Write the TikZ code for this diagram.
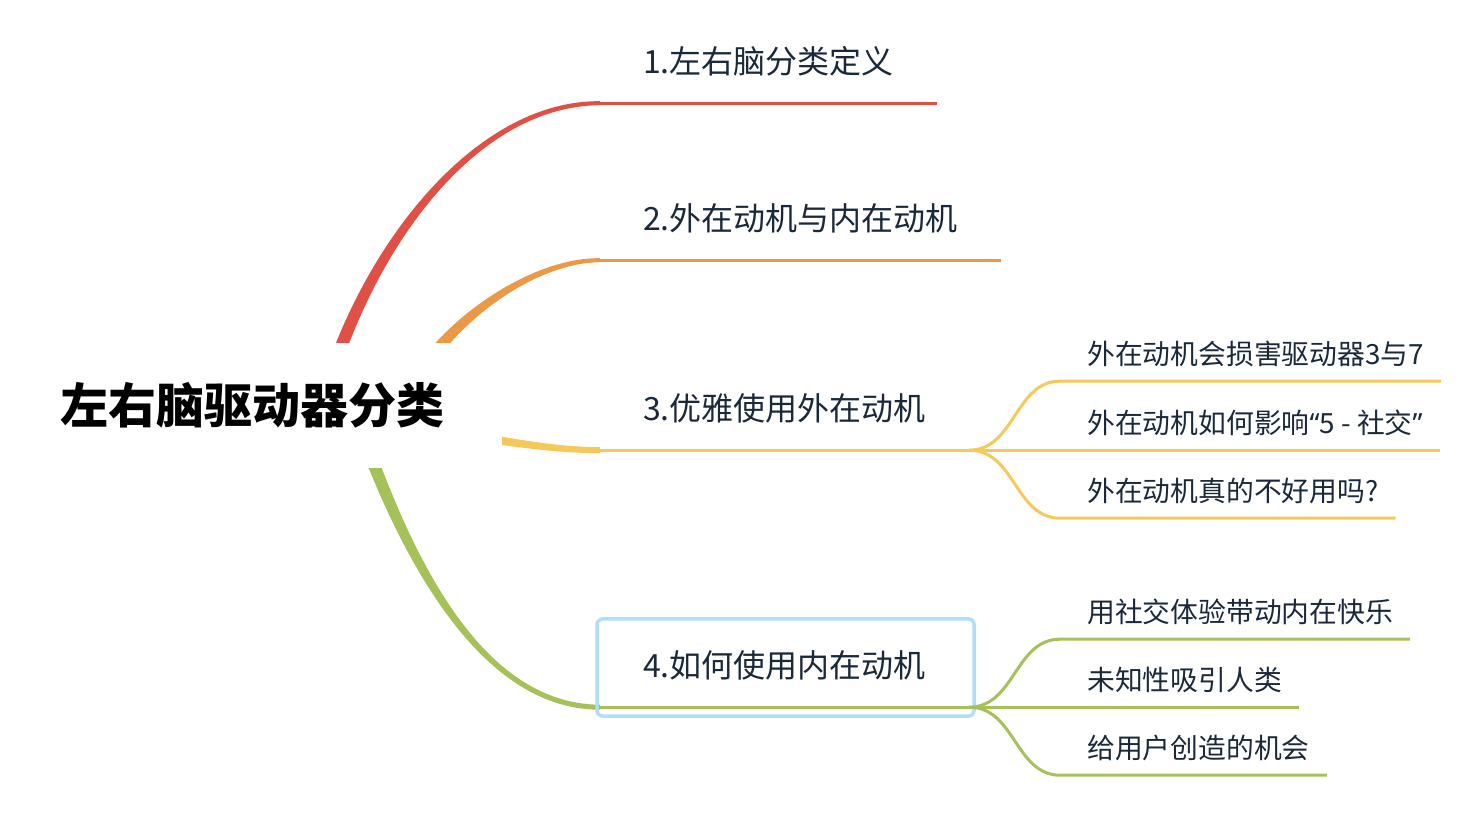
\documentclass[tikz,border=0pt]{standalone}
\usepackage{fontspec}
\newfontfamily\cjk{Noto Sans CJK SC}
\newfontfamily\latinq{Noto Sans}
\usepackage{tikz}
\usetikzlibrary{positioning,calc,backgrounds}
\definecolor{BranchRed}{HTML}{E05044}
\definecolor{BranchOrange}{HTML}{EB9847}
\definecolor{BranchYellow}{HTML}{F5C85A}
\definecolor{BranchGreen}{HTML}{A6C05A}
\definecolor{SelBlue}{HTML}{B0DEFA}
\definecolor{TextNavy}{HTML}{1A283A}

\begin{document}
\begin{tikzpicture}[
  x=1pt, y=-1pt,
  root/.style={
    fill=white,
    minimum width=500pt,
    minimum height=125pt,
    inner sep=0pt,
    text=black,
    font=\cjk\bfseries\fontsize{48}{57}\selectfont
  },
  topic/.style={
    anchor=west,
    inner xsep=43pt,
    inner ysep=0pt,
    minimum height=84pt,
    text=TextNavy,
    font=\cjk\fontsize{32}{38}\selectfont
  },
  sub/.style={
    anchor=west,
    inner sep=0pt,
    minimum height=54pt,
    text=TextNavy,
    font=\cjk\fontsize{27.8}{33}\selectfont
  },
  uline/.style={line width=3pt},
  selbox/.style={draw=SelBlue, line width=3.5pt, rounded corners=6pt}
]
\useasboundingbox (0,0) rectangle (1474,818);

% =========================================================
% ROOT AND MAIN TOPICS
% =========================================================

\node[root] (root) at (252,405) {左右脑驱动器分类};

\node[topic] (t1) at (600,61) {1.左右脑分类定义};
\node[topic] (t2) at (600,218) {2.外在动机与内在动机};
\node[topic] (t3) at (600,408) {3.优雅使用外在动机};
\node[topic] (t4) at (600,665) {4.如何使用内在动机};

% =========================================================
% SUBTOPICS
% =========================================================

\node[sub] (s31) at (1087,354) {外在动机会损害驱动器3与7};
\node[sub] (s32) at (1087,423) {外在动机如何影响{\latinq“}5 - 社交{\latinq”}};
\node[sub] (s33) at (1087,491) {外在动机真的不好用吗?};

\node[sub] (s41) at (1087,612) {用社交体验带动内在快乐};
\node[sub] (s42) at (1087,680) {未知性吸引人类};
\node[sub] (s43) at (1087,748) {给用户创造的机会};

% =========================================================
% BRANCHES (behind the root)
% =========================================================

\begin{scope}[on background layer]
\coordinate (h1) at (322,405);
\coordinate (h2) at (407,405);
\coordinate (h3) at (430,430);
\coordinate (h4) at (352,405);

\fill[BranchRed] ($(h1)+(-7,0)$) .. controls (358,248) and (474,100) .. ($(t1.south west)+(0,-2)$)
  -- ($(t1.south west)+(0,2)$) .. controls (474,106) and (370,252) .. ($(h1)+(7,0)$) -- cycle;
\fill[BranchOrange] ($(h2)+(-5,-5)$) .. controls (415,341) and (520,257) .. ($(t2.south west)+(0,-2)$)
  -- ($(t2.south west)+(0,2)$) .. controls (520,263) and (425,349) .. ($(h2)+(5,5)$) -- cycle;
\fill[BranchYellow] ($(h3)+(0,-5)$) .. controls (480,431) and (540,447) .. ($(t3.south west)+(0,-3)$)
  -- ($(t3.south west)+(0,3)$) .. controls (540,453) and (480,441) .. ($(h3)+(0,5)$) -- cycle;
\fill[BranchGreen] ($(h4)+(-7,0)$) .. controls (389,532) and (470,710) .. ($(t4.south west)+(0,2.5)$)
  -- ($(t4.south west)+(0,-2.5)$) .. controls (470,704) and (401,528) .. ($(h4)+(7,0)$) -- cycle;

\draw[selbox] ($(t4.north west)+(-3,-4)$) rectangle ($(t4.south east)+(5,9)$);
\end{scope}

% underlines of the main topics
\draw[uline, BranchRed] (t1.south west) -- (t1.south east);
\draw[uline, BranchOrange] (t2.south west) -- (t2.south east);
\draw[uline, BranchYellow] (t3.south west) -- (t3.south east);
\draw[uline, BranchGreen] (t4.south west) -- (t4.south east);

% =========================================================
% SUBTOPIC FORKS
% =========================================================

\draw[uline, BranchYellow] (t3.south east) .. controls (1015,450) and (1015,381) ..
  ([xshift=-27pt]s31.south west) -- ([xshift=17pt]s31.south east);
\draw[uline, BranchYellow] (t3.south east) -- ([xshift=17pt]s32.south east);
\draw[uline, BranchYellow] (t3.south east) .. controls (1015,450) and (1015,518) ..
  ([xshift=-27pt]s33.south west) -- ([xshift=17pt]s33.south east);

\draw[uline, BranchGreen] (t4.south east) .. controls (1015,707) and (1015,639) ..
  ([xshift=-27pt]s41.south west) -- ([xshift=17pt]s41.south east);
\draw[uline, BranchGreen] (t4.south east) -- ([xshift=17pt]s42.south east);
\draw[uline, BranchGreen] (t4.south east) .. controls (1015,707) and (1015,775) ..
  ([xshift=-27pt]s43.south west) -- ([xshift=17pt]s43.south east);

\end{tikzpicture}
\end{document}
